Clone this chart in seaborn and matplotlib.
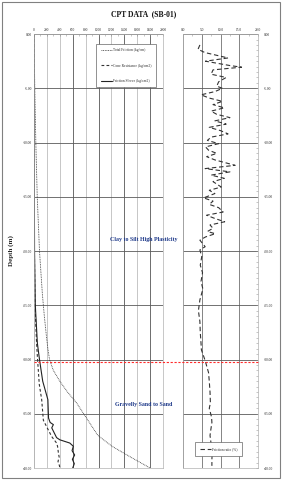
import numpy as np
import pandas as pd
import matplotlib
matplotlib.use("Agg")
import matplotlib.pyplot as plt
import matplotlib.transforms as mtransforms
from matplotlib.patches import Rectangle
import seaborn as sns

# --- data (depth in m, negative downwards) ---
total_depth = [0, -2, -5, -10, -15, -20, -24, -26, -28, -29, -30, -31, -32,
               -33, -34, -35, -36, -37, -38, -39, -40]
total_friction = [0, 5, 12, 28, 50, 85, 130, 160, 195, 215, 240, 300, 400,
                  520, 660, 770, 880, 990, 1210, 1500, 1800]

cone_depth = [0, -10, -20, -25, -28.5, -30, -32.3, -33.7, -35.6, -37.1, -37.7,
              -38.0, -38.6, -39.0, -39.4, -39.8, -40]
cone_resistance = [0, 3, 6, 15, 40, 55, 82, 119, 145, 274, 350, 365, 378, 390,
                   372, 395, 400]

sleeve_depth = [0, -10, -20, -25, -28.5, -30, -32, -33.7, -35.4, -35.8, -36.0,
                -36.3, -37.2, -37.4, -37.7, -38.0, -38.4, -38.8, -39.2, -39.6,
                -40]
friction_sleeve = [0, 3, 8, 20, 52, 85, 135, 215, 225, 250, 300, 275, 350, 400,
                   555, 610, 590, 630, 595, 625, 600]

ratio_depth = [-1.0, -1.4, -1.7, -2.2, -2.5, -2.9, -3.05, -3.3, -3.7, -4.0,
               -4.4, -4.8, -5.0, -5.3, -5.6, -5.9, -6.2, -6.5, -6.8, -7.1,
               -7.4, -7.7, -8.0, -8.3, -8.6, -8.9, -9.2, -9.5, -9.8, -10.1,
               -10.4, -10.7, -11.0, -11.3, -11.6, -12.1, -12.4, -12.7, -13.0,
               -13.3, -13.6, -14.1, -14.4, -14.7, -15.1, -15.4, -15.7, -16.0,
               -16.4, -16.7, -17.0, -17.3, -17.6, -17.9, -18.2, -18.4, -18.7,
               -19.0, -19.3, -19.6, -19.9, -20.5, -21.3, -22.0, -22.8, -23.5,
               -24.5, -25.5, -26.5, -27.5, -28.5, -29.1, -30.1, -31.2, -32.0,
               -33.0, -34.0, -34.5, -35.3, -35.8, -36.5, -37.0, -37.8, -38.5,
               -39.2, -39.8]
friction_ratio = [4.5, 4.0, 5.8, 12.0, 6.0, 12.5, 15.6, 8.0, 7.5, 11.5,
                  9.5, 9.0, 10.5, 8.5, 4.8, 7.0, 10.5, 8.0, 11.0, 7.5,
                  9.0, 12.5, 8.5, 11.5, 7.0, 10.0, 12.0, 7.5, 6.5, 9.5,
                  6.0, 6.8, 9.0, 6.3, 8.5, 13.9, 5.9, 12.5, 7.5,
                  11.0, 8.0, 10.2, 7.0, 8.5, 5.5, 8.0, 7.0, 9.5,
                  10.7, 6.3, 8.5, 11.1, 7.2, 8.0, 6.5, 8.6, 6.0,
                  4.5, 5.2, 5.9, 4.5, 5.0, 4.6, 5.2, 4.8, 5.3,
                  4.5, 4.1, 4.5, 4.6, 4.8, 4.9, 5.9, 6.8, 7.0,
                  7.2, 7.3, 7.0, 7.6, 7.7, 7.4, 7.2, 7.5, 7.8,
                  7.7, 7.7]

layer_boundary = -30.2
layer_labels = ["Clay to Silt High Plasticity", "Gravelly Sand to Sand"]

sns.set_theme(style="white")
plt.rcParams["font.family"] = ["Liberation Serif", "DejaVu Serif"]

fig = plt.figure(figsize=(2.82, 4.8), dpi=100)
ax_left = fig.add_axes([0.1206, 0.025, 0.4574, 0.904])
ax_right = fig.add_axes([0.649, 0.025, 0.266, 0.904])

tick_size = 2.6

sns.lineplot(x=total_friction, y=total_depth, ax=ax_left, orient="y",
             sort=False, estimator=None, color="#333333", lw=0.6,
             linestyle=(0, (1, 1)), label="Total Friction (kg/cm)")
sns.lineplot(x=cone_resistance, y=cone_depth, ax=ax_left, orient="y",
             sort=False, estimator=None, color="#333333", lw=0.8,
             linestyle=(0, (2.5, 2)), label="Cone Resistance (kg/cm2)")
sns.lineplot(x=friction_sleeve, y=sleeve_depth, ax=ax_left, orient="y",
             sort=False, estimator=None, color="#222222", lw=0.8,
             label="Friction Sleeve (kg/cm2)")

sns.lineplot(x=friction_ratio, y=ratio_depth, ax=ax_right, orient="y",
             sort=False, estimator=None, color="#333333", lw=0.8,
             linestyle=(0, (4, 2.5)), label="Friction ratio (%)")

for ax, xmax, xstep, fmt in [(ax_left, 2000, 200, "{:.0f}"),
                             (ax_right, 20, 5, "{:.1f}")]:
    ax.set_xlim(0, xmax)
    ax.set_ylim(-40, 0)
    xt = np.arange(0, xmax + xstep / 2, xstep)
    ax.set_xticks(xt)
    ax.set_xticklabels([fmt.format(v) for v in xt])
    yt = np.arange(-40, 0.1, 5)
    ax.set_yticks(yt)
    ax.set_yticklabels([f"{v:.2f}" for v in yt])
    ax.set_yticks(np.arange(-40, 0.1, 0.5), minor=True)
    ax.set_xticks(np.arange(0, xmax + 0.01, xstep / 2), minor=True)
    ax.xaxis.tick_top()
    ax.tick_params(axis="both", which="major", labelsize=tick_size, length=1.5,
                   width=0.4, pad=1.5, color="#888888", direction="in")
    ax.tick_params(axis="both", which="minor", length=1.2, width=0.4,
                   color="#999999", direction="in")
    ax.grid(True, which="major", color="#8c8c8c", lw=0.6)
    ax.set_xlabel("")
    ax.set_ylabel("")
    for s in ax.spines.values():
        s.set_color("#b0b0b0")
        s.set_linewidth(0.5)

ax_right.yaxis.tick_right()
ax_right.tick_params(axis="y", which="both", direction="in", pad=4)

# lighter and darker gridlines like the original sheet
for i, gl in enumerate(ax_left.get_xgridlines()):
    gl.set_color("#555555" if i % 2 == 1 and i > 1 else "#bdbdbd")
for gl in ax_left.get_ygridlines() + ax_right.get_ygridlines():
    gl.set_color("#5a5a5a")
for gl in ax_right.get_xgridlines():
    gl.set_color("#707070")

leg = ax_left.legend(loc="upper right", bbox_to_anchor=(0.96, 0.982),
                     fontsize=2.6, frameon=True, fancybox=False,
                     labelspacing=3.2, handlelength=3.2, borderpad=1.2,
                     handletextpad=0.3)
leg.get_frame().set_edgecolor("#666666")
leg.get_frame().set_linewidth(0.5)
leg.get_frame().set_alpha(1)

leg2 = ax_right.legend(loc="lower center", bbox_to_anchor=(0.475, 0.023),
                       fontsize=2.6, frameon=True, fancybox=False,
                       handlelength=3.0, borderpad=1.4, handletextpad=0.3)
leg2.get_frame().set_edgecolor("#666666")
leg2.get_frame().set_linewidth(0.5)
leg2.get_frame().set_alpha(1)

ax_left.set_ylabel("Depth (m)", fontsize=5, fontweight="bold", labelpad=6)

# red dashed layer boundary across both panels
trans = mtransforms.blended_transform_factory(fig.transFigure, ax_left.transData)
fig.lines.append(plt.Line2D([0.1206, 0.915], [layer_boundary, layer_boundary],
                            transform=trans, color="#ff2a2a", lw=0.8,
                            linestyle=(0, (2, 1.5))))

fig.text(0.511, 0.5, layer_labels[0], fontsize=4.3, fontweight="bold",
         color="#1f3a8a", ha="center", va="center")
fig.text(0.511, 0.157, layer_labels[1], fontsize=4.3, fontweight="bold",
         color="#1f3a8a", ha="center", va="center")

fig.text(0.508, 0.97, "CPT DATA  (SB-01)", fontsize=5.5, fontweight="bold",
         ha="center", va="center", color="#111111")

fig.patches.append(Rectangle((0.006, 0.005), 0.986, 0.99, transform=fig.transFigure,
                             fill=False, edgecolor="#808080", lw=0.8))

fig.savefig("out.png", dpi=100)
